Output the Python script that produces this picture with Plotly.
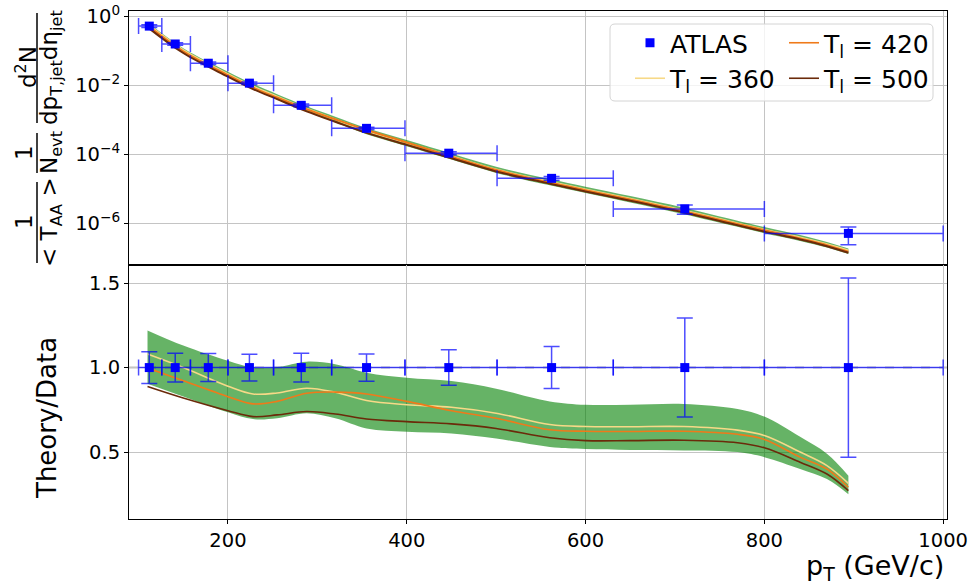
import plotly.graph_objects as go

# ---------------- data ----------------
pt_edges = [100, 126, 158, 200, 251, 316, 398, 501, 631, 800, 1000]
pt_data = [112, 141, 178, 224, 282, 355, 447, 562, 711, 894]
atlas_yield = [0.51, 0.155, 0.043, 0.0114, 0.0026, 5.6e-4, 1.07e-4, 2.0e-5, 2.6e-6, 5.1e-7]
atlas_rel_err = [0.094, 0.085, 0.083, 0.079, 0.085, 0.081, 0.105, 0.124, 0.293, 0.53]
atlas_ratio = [1.0, 1.0, 1.0, 1.0, 1.0, 1.0, 1.0, 1.0, 1.0, 1.0]

pt_theory = [110, 150, 200, 228, 255, 288, 320, 355, 400, 450,
             500, 560, 600, 650, 710, 770, 800, 840, 870, 894]

yield_T360 = [0.581, 0.1035, 0.02094, 0.00914, 0.00463, 0.002065, 1.021e-3, 4.79e-4, 2.13e-4, 8.75e-5,
              3.61e-5, 1.589e-5, 9.55e-6, 5.12e-6, 2.34e-6, 9.93e-7, 6.56e-7, 3.86e-7, 2.46e-7, 1.63e-7]
yield_T420 = [0.537, 0.0955, 0.0195, 0.00851, 0.00437, 0.0020, 1.023e-3, 5.01e-4, 2.19e-4, 8.51e-5,
              3.47e-5, 1.51e-5, 9.12e-6, 4.90e-6, 2.24e-6, 9.55e-7, 6.31e-7, 3.63e-7, 2.34e-7, 1.51e-7]
yield_T500 = [0.4775, 0.0849, 0.01754, 0.00769, 0.003926, 0.001742, 8.67e-4, 4.14e-4, 1.862e-4, 7.62e-5,
              3.17e-5, 1.40e-5, 8.32e-6, 4.47e-6, 2.05e-6, 8.75e-7, 5.75e-7, 3.40e-7, 2.17e-7, 1.41e-7]
yield_band_hi = [0.656, 0.1169, 0.02449, 0.01084, 0.00547, 0.002438, 1.222e-3, 5.77e-4, 2.57e-4, 1.052e-4,
                 4.34e-5, 1.914e-5, 1.143e-5, 6.14e-6, 2.825e-6, 1.191e-6, 7.78e-7, 4.56e-7, 2.87e-7, 1.866e-7]
yield_band_lo = [0.4875, 0.0849, 0.0173, 0.00753, 0.00382, 0.001718, 8.38e-4, 3.80e-4, 1.694e-4, 6.97e-5,
                 2.87e-5, 1.268e-5, 7.59e-6, 4.03e-6, 1.837e-6, 7.89e-7, 5.15e-7, 3.09e-7, 1.99e-7, 1.297e-7]

ratio_T360 = [1.08, 1.00, 0.89, 0.844, 0.85, 0.878, 0.854, 0.805, 0.78, 0.765,
              0.73, 0.663, 0.651, 0.65, 0.651, 0.63, 0.598, 0.50, 0.42, 0.315]
ratio_T420 = [0.998, 0.922, 0.828, 0.785, 0.80, 0.848, 0.855, 0.844, 0.80, 0.745,
              0.70, 0.632, 0.623, 0.622, 0.623, 0.605, 0.575, 0.47, 0.40, 0.292]
ratio_T500 = [0.888, 0.82, 0.745, 0.71, 0.72, 0.74, 0.725, 0.696, 0.68, 0.667,
              0.64, 0.585, 0.568, 0.568, 0.57, 0.555, 0.525, 0.44, 0.37, 0.272]
ratio_band_hi = [1.22, 1.13, 1.04, 1.00, 1.003, 1.035, 1.02, 0.97, 0.94, 0.92,
                 0.875, 0.80, 0.78, 0.78, 0.785, 0.755, 0.71, 0.59, 0.49, 0.36]
ratio_band_lo = [0.905, 0.829, 0.735, 0.695, 0.70, 0.73, 0.70, 0.64, 0.62, 0.61,
                 0.58, 0.53, 0.518, 0.512, 0.51, 0.50, 0.47, 0.40, 0.34, 0.25]

x_tick_vals = [200, 400, 600, 800, 1000]
y_top_tick_vals = [1, 1e-2, 1e-4, 1e-6]
y_top_tick_text = ["10<sup>0</sup>", "10<sup>\u22122</sup>", "10<sup>\u22124</sup>", "10<sup>\u22126</sup>"]
y_bot_tick_vals = [0.5, 1.0, 1.5]
y_bot_tick_text = ["0.5", "1.0", "1.5"]

# ---------------- styles ----------------
FONT = "DejaVu Sans"
BLUE = "#0000ff"
ERR_BLUE = "rgba(0,0,255,0.7)"
C360 = "#f7d987"
C420 = "#ef7a1a"
C500 = "#6b2a0a"
BAND = "rgba(0,128,0,0.6)"
GRID = "#c4c4c4"

W, H = 970, 586
ML, MR, MT, MB = 129, 23, 11, 67
PW, PH = W - ML - MR, H - MT - MB


def px_x(px):
    return (px - ML) / PW


def px_y(py):
    return (H - MB - py) / PH


xerr_plus = [pt_edges[i + 1] - pt_data[i] for i in range(len(pt_data))]
xerr_minus = [pt_data[i] - pt_edges[i] for i in range(len(pt_data))]
yerr_top = [v * e for v, e in zip(atlas_yield, atlas_rel_err)]

fig = go.Figure()

# ---- top panel ----
fig.add_trace(go.Scatter(x=pt_theory, y=yield_band_lo, mode="lines", line=dict(width=0, shape="spline"),
                         showlegend=False, hoverinfo="skip", xaxis="x", yaxis="y"))
fig.add_trace(go.Scatter(x=pt_theory, y=yield_band_hi, mode="lines", line=dict(width=0, shape="spline"),
                         fill="tonexty", fillcolor=BAND, showlegend=False, hoverinfo="skip",
                         xaxis="x", yaxis="y"))
for ys, col in [(yield_T360, C360), (yield_T420, C420), (yield_T500, C500)]:
    fig.add_trace(go.Scatter(x=pt_theory, y=ys, mode="lines", line=dict(color=col, width=2, shape="spline"),
                             showlegend=False, xaxis="x", yaxis="y"))
fig.add_trace(go.Scatter(
    x=pt_data, y=atlas_yield, mode="markers",
    marker=dict(symbol="square", size=9, color=BLUE),
    error_x=dict(type="data", symmetric=False, array=xerr_plus, arrayminus=xerr_minus,
                 color=ERR_BLUE, thickness=1.5, width=8),
    error_y=dict(type="data", array=yerr_top, color=ERR_BLUE, thickness=1.5, width=8),
    name="ATLAS", showlegend=True, legend="legend", legendrank=1, xaxis="x", yaxis="y"))

# ---- bottom panel ----
fig.add_trace(go.Scatter(x=pt_theory, y=ratio_band_lo, mode="lines", line=dict(width=0, shape="spline"),
                         showlegend=False, hoverinfo="skip", xaxis="x2", yaxis="y2"))
fig.add_trace(go.Scatter(x=pt_theory, y=ratio_band_hi, mode="lines", line=dict(width=0, shape="spline"),
                         fill="tonexty", fillcolor=BAND, showlegend=False, hoverinfo="skip",
                         xaxis="x2", yaxis="y2"))
for ys, col, nm, lg, rk in [(ratio_T360, C360, "T<sub>l</sub> = 360", "legend", 2),
                            (ratio_T420, C420, "T<sub>l</sub> = 420", "legend2", 1),
                            (ratio_T500, C500, "T<sub>l</sub> = 500", "legend2", 2)]:
    fig.add_trace(go.Scatter(x=pt_theory, y=ys, mode="lines", line=dict(color=col, width=1.6, shape="spline"),
                             name=nm, showlegend=True, legend=lg, legendrank=rk, xaxis="x2", yaxis="y2"))
fig.add_trace(go.Scatter(
    x=pt_data, y=atlas_ratio, mode="markers",
    marker=dict(symbol="square", size=9, color=BLUE),
    error_x=dict(type="data", symmetric=False, array=xerr_plus, arrayminus=xerr_minus,
                 color=ERR_BLUE, thickness=1.5, width=8),
    error_y=dict(type="data", array=atlas_rel_err, color=ERR_BLUE, thickness=1.5, width=8),
    showlegend=False, xaxis="x2", yaxis="y2"))

axis_common = dict(showline=True, linecolor="black", linewidth=1, mirror=True,
                   showgrid=True, gridcolor=GRID, gridwidth=1, ticks="outside", ticklen=4,
                   tickcolor="black", zeroline=False, automargin=False,
                   tickfont=dict(family=FONT, size=19.5, color="black"))

legend_common = dict(orientation="v", yanchor="top", xanchor="left", traceorder="normal",
                     font=dict(family=FONT, size=25, color="black"),
                     bgcolor="rgba(0,0,0,0)", borderwidth=0, tracegroupgap=0)

# rounded legend frame (pixel coordinates -> paper)
fx0, fx1, fy0, fy1, rr = 610, 933, 24, 101, 5
frame_path = (
    f"M {px_x(fx0 + rr)},{px_y(fy0)} L {px_x(fx1 - rr)},{px_y(fy0)} "
    f"Q {px_x(fx1)},{px_y(fy0)} {px_x(fx1)},{px_y(fy0 + rr)} "
    f"L {px_x(fx1)},{px_y(fy1 - rr)} Q {px_x(fx1)},{px_y(fy1)} {px_x(fx1 - rr)},{px_y(fy1)} "
    f"L {px_x(fx0 + rr)},{px_y(fy1)} Q {px_x(fx0)},{px_y(fy1)} {px_x(fx0)},{px_y(fy1 - rr)} "
    f"L {px_x(fx0)},{px_y(fy0 + rr)} Q {px_x(fx0)},{px_y(fy0)} {px_x(fx0 + rr)},{px_y(fy0)} Z"
)

xr = [89.3, 1004.3]
fig.update_layout(
    width=W, height=H,
    margin=dict(l=ML, r=MR, t=MT, b=MB, autoexpand=False),
    paper_bgcolor="white", plot_bgcolor="white",
    font=dict(family=FONT, color="black"),
    xaxis=dict(domain=[0, 1], anchor="y", range=xr, tickvals=x_tick_vals, showticklabels=False,
               **axis_common),
    yaxis=dict(domain=[0.5, 1], anchor="x", type="log", range=[-7.207, 0.145],
               tickvals=y_top_tick_vals, ticktext=y_top_tick_text, **axis_common),
    xaxis2=dict(domain=[0, 1], anchor="y2", range=xr, tickvals=x_tick_vals, matches="x",
                **axis_common),
    yaxis2=dict(domain=[0, 0.5], anchor="x2", range=[0.104, 1.607],
                tickvals=y_bot_tick_vals, ticktext=y_bot_tick_text, **axis_common),
    legend=dict(x=px_x(630), y=px_y(20), **legend_common),
    legend2=dict(x=px_x(784), y=px_y(20), **legend_common),
    shapes=[
        dict(type="path", xref="paper", yref="paper", path=frame_path,
             fillcolor="rgba(255,255,255,0.8)", line=dict(color="#d4d4d4", width=1), layer="above"),
        dict(type="line", xref="x2 domain", yref="y2", x0=0, x1=1, y0=1, y1=1,
             line=dict(color="gray", width=1.5, dash="dash"), layer="below"),
        dict(type="line", xref="paper", yref="paper", x0=px_x(37), x1=px_x(37), y0=px_y(13), y1=px_y(123),
             line=dict(color="black", width=1.5)),
        dict(type="line", xref="paper", yref="paper", x0=px_x(37), x1=px_x(37), y0=px_y(133), y1=px_y(173),
             line=dict(color="black", width=1.5)),
        dict(type="line", xref="paper", yref="paper", x0=px_x(37), x1=px_x(37), y0=px_y(182), y1=px_y(263),
             line=dict(color="black", width=1.5)),
    ],
)

ann_font = dict(family=FONT, size=23, color="black")
annotations = [
    ("d<sup>2</sup>N", 26, 67),
    ("dp<sub>T,jet</sub>d\u03b7<sub>jet</sub>", 51, 68),
    ("1", 24, 153),
    ("N<sub>evt</sub>", 51, 153),
    ("1", 24, 222),
    ("&lt; T<sub>AA</sub> &gt;", 51, 222),
]
for txt, ax_, ay_ in annotations:
    fig.add_annotation(text=txt, xref="paper", yref="paper", x=px_x(ax_), y=px_y(ay_),
                       xanchor="center", yanchor="middle", textangle=-90, showarrow=False,
                       font=ann_font)

fig.add_annotation(text="Theory/Data", xref="paper", yref="paper", x=px_x(47), y=px_y(418),
                   xanchor="center", yanchor="middle", textangle=-90, showarrow=False,
                   font=dict(family=FONT, size=26, color="black"))
fig.add_annotation(text="p<sub>T</sub> (GeV/c)", xref="paper", yref="paper", x=px_x(946), y=px_y(567),
                   xanchor="right", yanchor="middle", showarrow=False,
                   font=dict(family=FONT, size=27, color="black"))

fig.write_html("out.html")
